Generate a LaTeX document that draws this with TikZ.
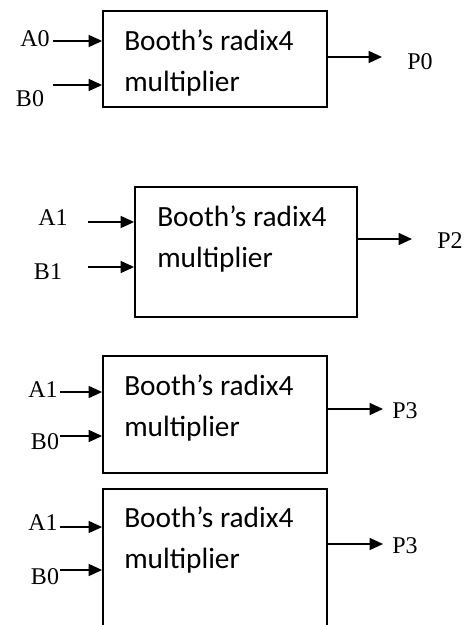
\documentclass[tikz,border=0pt]{standalone}
\usepackage{fontspec}
\setmainfont{Liberation Serif}
\newfontfamily\boxfont{Carlito}
\usetikzlibrary{arrows.meta}
\begin{document}
\begin{tikzpicture}[x=0.75pt,y=-0.75pt,
  blockbox/.style={draw, line width=1.4pt, rectangle, inner sep=0pt},
  blocktext/.style={anchor=base west, align=left, inner sep=0pt,
    font=\boxfont\fontsize{22pt}{30.75pt}\selectfont},
  sig/.style={inner sep=0pt, font=\fontsize{18pt}{20pt}\selectfont},
  arr/.style={line width=1pt, -{Triangle[length=10pt,width=9pt]}}]
\useasboundingbox (0,0) rectangle (467,625);
\clip (0,0) rectangle (467,625);
% block 1
\node[blockbox, minimum width=224*0.75pt, minimum height=96*0.75pt] (m1) at (215,59) {};
\node[blocktext] (t1) at (124,91) {Booth’s radix4\\multiplier};
\node[sig] (a0) at (35,39) {A0};
\node[sig] (b0) at (30,99) {B0};
\node[sig] (p0) at (420,62) {P0};
\coordinate (a0s) at (53,41);
\coordinate (b0s) at (53,85);
\coordinate (p0e) at (382,57);
\draw[arr] (a0s) -- (a0s -| m1.west);
\draw[arr] (b0s) -- (b0s -| m1.west);
\draw[arr] (p0e -| m1.east) -- (p0e);
% block 2
\node[blockbox, minimum width=222*0.75pt, minimum height=130*0.75pt] (m2) at (246,252) {};
\node[blocktext] (t2) at (157,267) {Booth’s radix4\\multiplier};
\node[sig] (a1) at (53,218) {A1};
\node[sig] (b1) at (48,272) {B1};
\node[sig] (p2) at (450,241) {P2};
\coordinate (a1s) at (88,222);
\coordinate (b1s) at (88,267);
\coordinate (p2e) at (412,239);
\draw[arr] (a1s) -- (a1s -| m2.west);
\draw[arr] (b1s) -- (b1s -| m2.west);
\draw[arr] (p2e -| m2.east) -- (p2e);
% block 3
\node[blockbox, minimum width=224*0.75pt, minimum height=117*0.75pt] (m3) at (215,414.5) {};
\node[blocktext] (t3) at (124,436) {Booth’s radix4\\multiplier};
\node[sig] (a1c) at (43,390) {A1};
\node[sig] (b0c) at (45,442) {B0};
\node[sig] (p3c) at (405,411) {P3};
\coordinate (a1cs) at (60,392);
\coordinate (b0cs) at (60,436);
\coordinate (p3ce) at (383,409);
\draw[arr] (a1cs) -- (a1cs -| m3.west);
\draw[arr] (b0cs) -- (b0cs -| m3.west);
\draw[arr] (p3ce -| m3.east) -- (p3ce);
% block 4
\node[blockbox, minimum width=224*0.75pt, minimum height=160*0.75pt] (m4) at (215,569) {};
\node[blocktext] (t4) at (124,568) {Booth’s radix4\\multiplier};
\node[sig] (a1d) at (43,523) {A1};
\node[sig] (b0d) at (45,577) {B0};
\node[sig] (p3d) at (405,546) {P3};
\coordinate (a1ds) at (60,527);
\coordinate (b0ds) at (60,570);
\coordinate (p3de) at (383,544);
\draw[arr] (a1ds) -- (a1ds -| m4.west);
\draw[arr] (b0ds) -- (b0ds -| m4.west);
\draw[arr] (p3de -| m4.east) -- (p3de);
\end{tikzpicture}
\end{document}
